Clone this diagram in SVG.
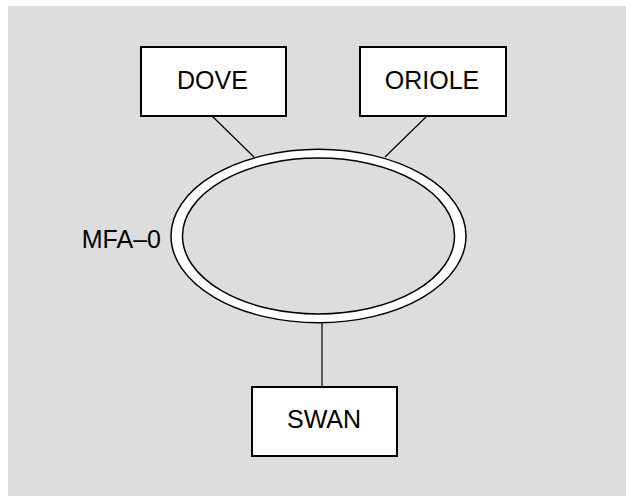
<svg xmlns="http://www.w3.org/2000/svg" width="626" height="496" viewBox="0 0 626 496">
<style>
.box{fill:#ffffff;stroke:#000000;stroke-width:2}
.lbl{font-family:"Liberation Sans",Arial,sans-serif;font-size:25px;fill:#000000}
.conn{stroke:#000000;stroke-width:1.2;fill:none}
</style>
<rect x="8" y="6" width="618" height="490" fill="#dddddd"/>
<g id="connectors">
<line class="conn" x1="212" y1="116" x2="254" y2="157"/>
<line class="conn" x1="427" y1="116" x2="385" y2="157"/>
<line class="conn" x1="322" y1="322" x2="322" y2="387"/>
</g>
<g id="mfa0">
<ellipse cx="318.5" cy="236" rx="147.5" ry="86.7" fill="#ffffff" stroke="#000000" stroke-width="1.5"/>
<ellipse cx="318.5" cy="236" rx="136" ry="78" fill="#dddddd" stroke="#000000" stroke-width="1.5"/>
<text class="lbl" x="161" y="248" text-anchor="end">MFA–0</text>
</g>
<g id="dove">
<rect class="box" x="141" y="47" width="145" height="69"/>
<text class="lbl" x="212.5" y="89" text-anchor="middle">DOVE</text>
</g>
<g id="oriole">
<rect class="box" x="360" y="47" width="146" height="69"/>
<text class="lbl" x="432" y="89" text-anchor="middle">ORIOLE</text>
</g>
<g id="swan">
<rect class="box" x="252" y="387" width="145" height="69"/>
<text class="lbl" x="324" y="428" text-anchor="middle">SWAN</text>
</g>
</svg>
